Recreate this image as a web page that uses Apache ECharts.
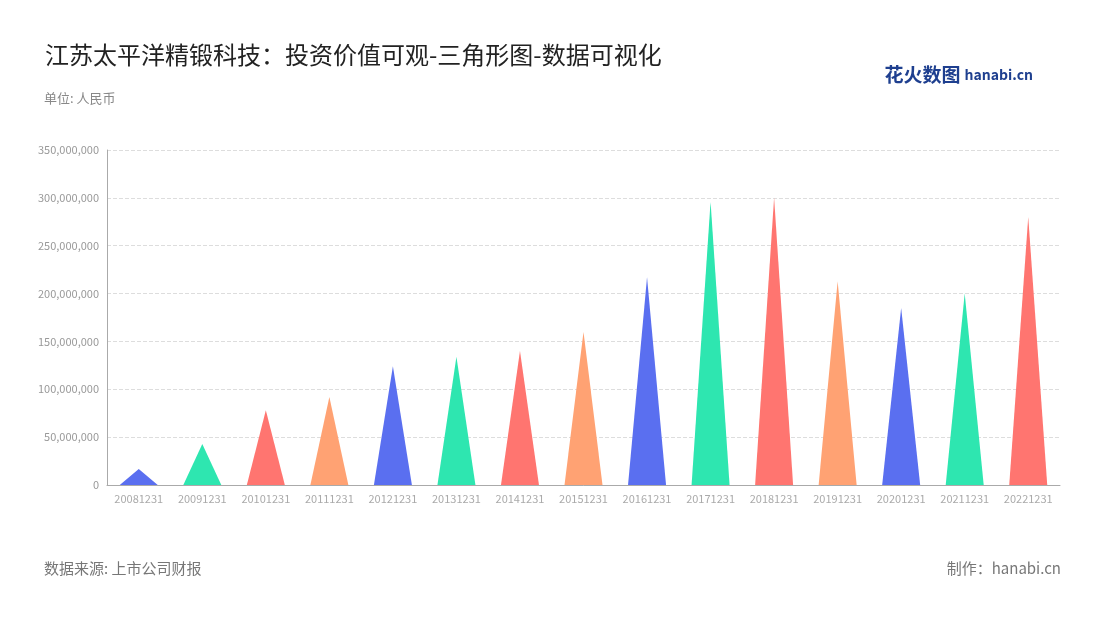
<!DOCTYPE html>
<html><head><meta charset="utf-8">
<script src="https://cdn.jsdelivr.net/npm/echarts@6/dist/echarts.min.js"></script>
<style>html,body{margin:0;padding:0;background:#fff}#c{width:1100px;height:620px}</style>
</head><body><div id="c"></div>
<script>
const categories = ['20081231','20091231','20101231','20111231','20121231','20131231','20141231','20151231','20161231','20171231','20181231','20191231','20201231','20211231','20221231'];
const values = [16700000,42800000,78000000,92000000,124000000,134000000,140000000,160000000,217000000,296000000,300000000,213000000,185000000,200000000,280000000];
const palette = ['#5a6ff0','#2ee6b0','#ff7570','#ffa273'];
const yTicks = {min:0,max:350000000,interval:50000000};

const chart = echarts.init(document.getElementById('c'));
const font = '"Noto Sans CJK SC","Noto Sans",sans-serif';
chart.setOption({
  textStyle:{fontFamily:font},
  title:[
    {text:'江苏太平洋精锻科技：投资价值可观-三角形图-数据可视化',left:40,top:38,textStyle:{fontSize:24,fontWeight:'normal',color:'#222',fontFamily:font}},
    {text:'单位: 人民币',left:39,top:87,textStyle:{fontSize:13,fontWeight:'normal',color:'#888',fontFamily:font}},
    {text:'数据来源: 上市公司财报',left:39,top:556,textStyle:{fontSize:15,fontWeight:'normal',color:'#777',fontFamily:font}},
    {text:'制作：hanabi.cn',right:34,top:556,textStyle:{fontSize:15,fontWeight:'normal',color:'#777',fontFamily:font}},
    {text:'{a|花火}{b|数图} {c|hanabi.cn}',right:62,top:60,textStyle:{rich:{a:{fontSize:19,fontWeight:'bold',color:'#1e3f8f',fontFamily:font},b:{fontSize:19,color:'#1e3f8f',fontFamily:font},c:{fontSize:14,fontWeight:'bold',color:'#1e3f8f',fontFamily:font}}}}
  ],
  grid:{left:107,right:40,top:150,bottom:135},
  xAxis:{type:'category',data:categories,axisTick:{show:false},
    axisLine:{lineStyle:{color:'#aaa'}},
    axisLabel:{color:'#aaa',fontSize:11,interval:0,fontFamily:font}},
  yAxis:{type:'value',min:yTicks.min,max:yTicks.max,interval:yTicks.interval,
    axisLine:{show:true,lineStyle:{color:'#aaa'}},
    axisLabel:{color:'#999',fontSize:11,fontFamily:font,formatter:v=>v.toLocaleString('en-US')},
    splitLine:{lineStyle:{type:'dashed',color:'#ddd'}}},
  series:[{type:'pictorialBar',symbol:'path://M0,100 L50,0 L100,100 Z',
    symbolSize:[38,'100%'],
    data:values.map((v,i)=>({value:v,itemStyle:{color:palette[i%4]}}))}]
});
</script></body></html>
